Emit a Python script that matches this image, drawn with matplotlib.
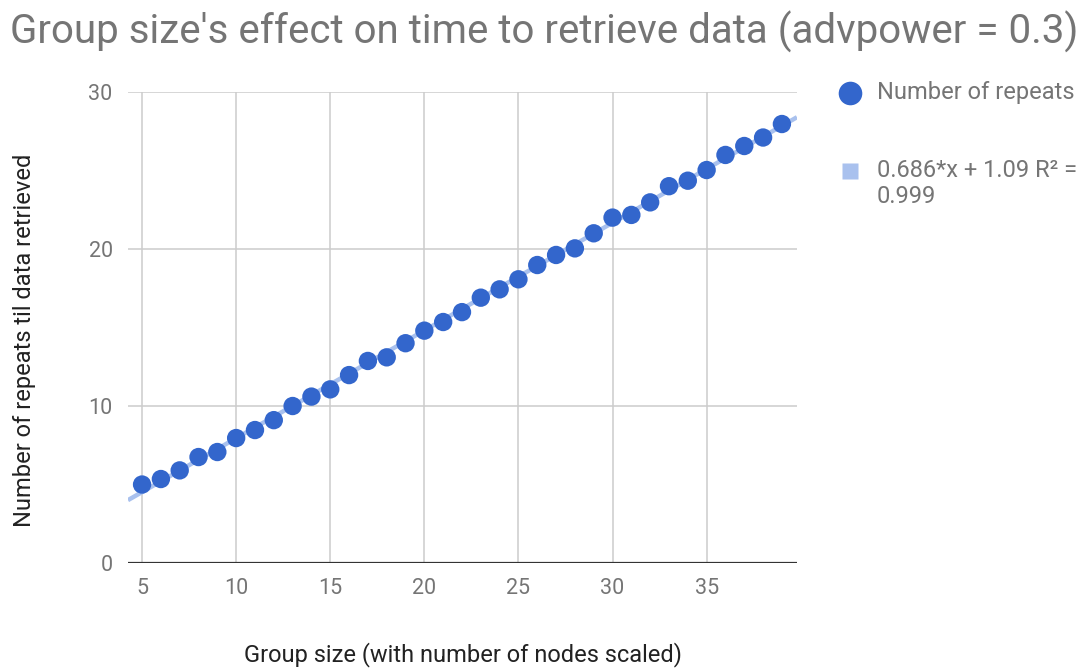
import numpy as np
import matplotlib.pyplot as plt

plt.rcParams['font.family'] = ['Roboto', 'DejaVu Sans']

# Data
group_size = [5, 6, 7, 8, 9, 10, 11, 12, 13, 14, 15, 16, 17, 18, 19, 20, 21, 22,
              23, 24, 25, 26, 27, 28, 29, 30, 31, 32, 33, 34, 35, 36, 37, 38, 39]
repeats = [5.0, 5.35, 5.9, 6.75, 7.07, 7.96, 8.47, 9.1, 10.0, 10.6, 11.06, 11.97,
           12.87, 13.1, 14.0, 14.8, 15.35, 15.98, 16.9, 17.43, 18.07, 18.98, 19.62,
           20.04, 21.0, 22.0, 22.17, 22.97, 24.0, 24.35, 25.03, 25.99, 26.56, 27.1, 27.96]
trend_slope = 0.686
trend_icept = 1.09
trend_label = "0.686*x + 1.09 R² =\n0.999"
x_ticks = [5, 10, 15, 20, 25, 30, 35]
y_ticks = [0, 10, 20, 30]

fig = plt.figure(figsize=(10.88, 6.69), dpi=100)
ax = fig.add_axes([0.1176, 0.1584, 0.6149, 0.7041])

x_lo, x_hi = 4.25, 39.8
tx = np.array([x_lo, x_hi])
ax.plot(tx, trend_slope * tx + trend_icept, color='#a9c1ee', lw=3.2,
        solid_capstyle='butt', zorder=2)
ax.scatter(group_size, repeats, s=175, color='#3366cc', edgecolors='none', zorder=3)

ax.set_xlim(x_lo, x_hi)
ax.set_ylim(0, 30)
ax.set_xticks(x_ticks)
ax.set_yticks(y_ticks)
ax.grid(True, color='#cccccc', lw=1.1)
ax.set_axisbelow(True)
for s in ax.spines.values():
    s.set_visible(False)
ax.axhline(0, color='#333333', lw=1.6, zorder=1)
ax.tick_params(length=0, labelsize=15.5, labelcolor='#757575', pad=11)

fig.text(10 / 1088, 1 - 32 / 669,
         "Group size's effect on time to retrieve data (advpower = 0.3)",
         fontsize=29, color='#757575', va='center', ha='left')
fig.text(463 / 1088, 1 - 655 / 669, "Group size (with number of nodes scaled)",
         fontsize=17, color='#222222', ha='center', va='center')
fig.text(25 / 1088, 1 - 340 / 669, "Number of repeats til data retrieved",
         fontsize=17, color='#222222', ha='center', va='center', rotation=90)

# legend drawn by hand to match the layout
fig.lines.append(plt.Line2D([850 / 1088], [1 - 93 / 669], marker='o', ms=17,
                            color='#3366cc', mec='none', transform=fig.transFigure))
fig.lines.append(plt.Line2D([850 / 1088], [1 - 171 / 669], marker='s', ms=12,
                            color='#a9c1ee', mec='none', transform=fig.transFigure))
fig.text(877 / 1088, 1 - 93 / 669, "Number of repeats", fontsize=17,
         color='#757575', va='center', ha='left')
fig.text(877 / 1088, 1 - 159 / 669, trend_label, fontsize=17, color='#757575',
         va='top', ha='left', linespacing=1.15)

fig.savefig('out.png', dpi=100)
